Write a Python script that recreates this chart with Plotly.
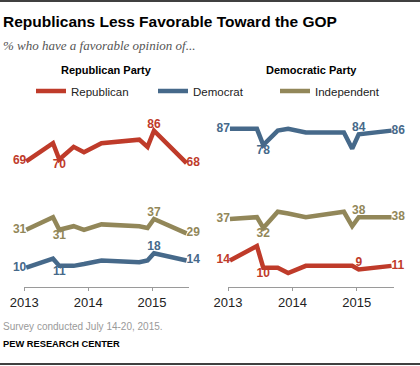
import plotly.graph_objects as go

# ---- data ----
survey_dates = ['2013-01-12', '2013-06-14', '2013-07-20', '2013-10-10', '2013-12-08',
                '2014-03-18', '2014-10-20', '2014-12-06', '2015-01-12', '2015-07-17']

# Favorable view of the Republican Party, by party identification
gop_by_rep = [69, 79, 70, 77, 74, 79, 81, 77, 86, 68]
gop_by_dem = [10, 15, 11, 11, 12, 14, 13, 14, 18, 14]
gop_by_ind = [31, 38, 31, 33, 31, 34, 33, 32, 37, 29]

# Favorable view of the Democratic Party, by party identification
dem_by_rep = [14, 22, 10, 10, 7, 11, 11, 11, 9, 11]
dem_by_dem = [87, 87, 78, 86, 87, 85, 85, 76, 84, 86]
dem_by_ind = [37, 38, 32, 41, 40, 38, 41, 33, 38, 38]

labeled_idx = {0: 'middle left', 2: 'bottom center', 8: 'top center', 9: 'middle right'}
tick_vals = ['2013-01-01', '2014-01-01', '2015-01-01']
tick_text = ['2013', '2014', '2015']

series_names = ['Republican', 'Democrat', 'Independent']
colors = ['#BF3B2A', '#46698A', '#928759']

W, H = 420, 366
FONT = 'Liberation Sans, Arial, sans-serif'


def labels(values):
    return [str(v) if i in labeled_idx else '' for i, v in enumerate(values)]


def positions(values):
    return [labeled_idx.get(i, 'middle center') for i in range(len(values))]


fig = go.Figure()

panels = [
    ('x', 'y', [gop_by_rep, gop_by_dem, gop_by_ind], True),
    ('x2', 'y2', [dem_by_rep, dem_by_dem, dem_by_ind], False),
]
for xa, ya, series, show in panels:
    for name, vals, col in zip(series_names, series, colors):
        fig.add_trace(go.Scatter(
            x=survey_dates, y=vals, name=name, xaxis=xa, yaxis=ya,
            mode='lines+text', line=dict(color=col, width=4.5),
            text=labels(vals), textposition=positions(vals),
            textfont=dict(family=FONT, size=12, color=col, weight='bold'),
            showlegend=show, hoverinfo='skip', cliponaxis=False,
        ))


def px_x(p):
    return p / W


def px_y(p):
    return 1 - p / H


y_rng = [-0.72, 95]
y_dom = [px_y(287), px_y(114.4)]
x_rng = ['2013-01-01', '2015-07-31']

axis_common = dict(
    type='date', range=x_rng, tickvals=tick_vals, ticktext=tick_text,
    showgrid=False, zeroline=False, showline=True, linecolor='#9a9a9a', linewidth=1,
    ticks='outside', ticklen=3, tickcolor='#9a9a9a', tickwidth=1, automargin=False,
    tickfont=dict(family=FONT, size=13, color='#222222'),
)
yaxis_common = dict(range=y_rng, domain=y_dom, visible=False, fixedrange=True, automargin=False)

fig.update_layout(
    template='none',
    width=W, height=H,
    margin=dict(l=0, r=0, t=0, b=0, autoexpand=False),
    paper_bgcolor='white', plot_bgcolor='white',
    font=dict(family=FONT),
    xaxis=dict(domain=[px_x(24.3), px_x(189)], anchor='y', **axis_common),
    xaxis2=dict(domain=[px_x(228), px_x(394)], anchor='y2', **axis_common),
    yaxis=dict(anchor='x', **yaxis_common),
    yaxis2=dict(anchor='x2', **yaxis_common),
    legend=dict(
        orientation='h', x=px_x(31), y=px_y(91), xanchor='left', yanchor='middle',
        font=dict(family=FONT, size=11.5, color='#222222'),
        entrywidth=77, entrywidthmode='pixels',
        itemwidth=30, bgcolor='rgba(0,0,0,0)', traceorder='normal',
    ),
    showlegend=True,
)

annotations = [
    dict(text='<b>Republicans Less Favorable Toward the GOP</b>', x=px_x(1), y=px_y(22),
         font=dict(family=FONT, size=15.5, color='#000000')),
    dict(text='<i>% who have a favorable opinion of...</i>', x=px_x(1), y=px_y(45),
         font=dict(family='Liberation Serif, Georgia, serif', size=13, color='#555555')),
    dict(text='<b>Republican Party</b>', x=px_x(106), y=px_y(70), xanchor='center',
         font=dict(family=FONT, size=11, color='#000000')),
    dict(text='<b>Democratic Party</b>', x=px_x(311), y=px_y(70), xanchor='center',
         font=dict(family=FONT, size=11, color='#000000')),
    dict(text='Survey conducted July 14-20, 2015.', x=px_x(1), y=px_y(326),
         font=dict(family=FONT, size=10, color='#9a9a9a')),
    dict(text='<b>PEW RESEARCH CENTER</b>', x=px_x(1), y=px_y(344),
         font=dict(family=FONT, size=9.3, color='#000000')),
]
for a in annotations:
    a.setdefault('xanchor', 'left')
    fig.add_annotation(xref='paper', yref='paper', yanchor='middle', showarrow=False, **a)

fig.add_shape(type='line', xref='paper', yref='paper', x0=0, x1=1, y0=px_y(1), y1=px_y(1),
              line=dict(color='#000000', width=1.5))
fig.add_shape(type='line', xref='paper', yref='paper', x0=0, x1=1, y0=px_y(364), y1=px_y(364),
              line=dict(color='#000000', width=1.5))

fig.write_html(
    'out.html',
    config={'displayModeBar': False, 'responsive': False},
    post_script="document.body.style.margin='0';document.body.style.overflow='hidden';",
)
